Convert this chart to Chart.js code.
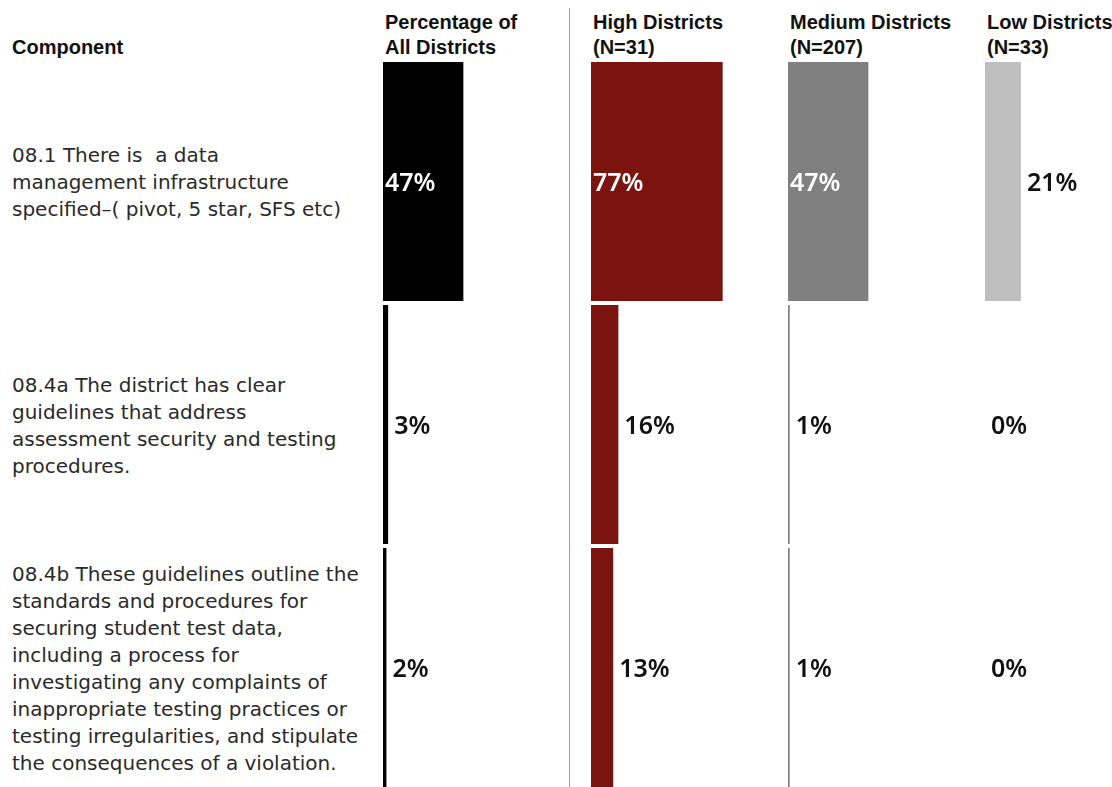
<!DOCTYPE html>
<html>
<head>
<meta charset="utf-8">
<script src="https://cdn.jsdelivr.net/npm/chart.js@4/dist/chart.umd.min.js"></script>
<style>
  html, body { margin: 0; padding: 0; background: #fff; }
  #wrap { position: relative; width: 1112px; height: 787px; overflow: hidden; }
  .head { position: absolute; top: 10px; font: bold 20px "Liberation Sans", Arial, sans-serif; line-height: 25px; color: #111; white-space: pre; }
  .comp { position: absolute; left: 12px; width: 360px; display: flex; align-items: center;
          font: 20px "DejaVu Sans", sans-serif; line-height: 27px; color: #2a2a2a; white-space: pre; }
  .col { position: absolute; top: 60px; }
  #divider { position: absolute; left: 569px; top: 8px; width: 1px; height: 779px; background: #a0a0a0; }
</style>
</head>
<body>
<div id="wrap"></div>
<script>
// component descriptions (one per row, with their line breaks)
const components = [
  "08.1 There is  a data\nmanagement infrastructure\nspecified\u2013( pivot, 5 star, SFS etc)",
  "08.4a The district has clear\nguidelines that address\nassessment security and testing\nprocedures.",
  "08.4b These guidelines outline the\nstandards and procedures for\nsecuring student test data,\nincluding a process for\ninvestigating any complaints of\ninappropriate testing practices or\ntesting irregularities, and stipulate\nthe consequences of a violation."
];
const groupTitles = ["Percentage of\nAll Districts", "High Districts\n(N=31)", "Medium Districts\n(N=207)", "Low Districts\n(N=33)"];
const allDistricts = [47, 3, 2];
const highDistricts = [77, 16, 13];
const mediumDistricts = [47, 1, 1];
const lowDistricts = [21, 0, 0];

const series = [allDistricts, highDistricts, mediumDistricts, lowDistricts];
const colors = ["#000000", "#7b130f", "#808080", "#bfbfbf"];
const colLeft = [383, 591, 788, 985];
const rowTop = 60, rowH = 243;

const wrap = document.getElementById("wrap");

// header row
const compHead = document.createElement("div");
compHead.className = "head";
compHead.style.left = "12px";
compHead.textContent = "\nComponent";
wrap.appendChild(compHead);

groupTitles.forEach((t, i) => {
  const d = document.createElement("div");
  d.className = "head";
  d.style.left = (colLeft[i] + 2) + "px";
  d.textContent = t;
  wrap.appendChild(d);
});

// component text, centred in each row
components.forEach((t, i) => {
  const d = document.createElement("div");
  d.className = "comp";
  d.style.top = (rowTop + i * rowH + 1) + "px";
  d.style.height = rowH + "px";
  d.textContent = t;
  wrap.appendChild(d);
});

const divider = document.createElement("div");
divider.id = "divider";
wrap.appendChild(divider);

// value labels: white inside long bars, black just past short ones
const valueLabels = {
  id: "valueLabels",
  afterDatasetsDraw(chart) {
    const ctx = chart.ctx;
    const meta = chart.getDatasetMeta(0);
    const data = chart.data.datasets[0].data;
    ctx.save();
    ctx.font = "600 25px 'Noto Sans', sans-serif";
    ctx.textBaseline = "middle";
    meta.data.forEach((bar, i) => {
      const v = data[i];
      if (v >= 40) {
        ctx.fillStyle = "#ffffff";
        ctx.fillText(v + "%", bar.base + 2, bar.y + 2);
      } else {
        ctx.fillStyle = "#111111";
        ctx.fillText(v + "%", bar.x + 6, bar.y + 2);
      }
    });
    ctx.restore();
  }
};

series.forEach((values, i) => {
  const canvas = document.createElement("canvas");
  canvas.className = "col";
  canvas.width = 200;
  canvas.height = rowH * 3;
  canvas.style.left = colLeft[i] + "px";
  wrap.appendChild(canvas);

  new Chart(canvas.getContext("2d"), {
    type: "bar",
    data: {
      labels: components.map((c, k) => "row" + k),
      datasets: [{
        data: values,
        backgroundColor: colors[i],
        borderWidth: 0,
        barPercentage: 0.984,
        categoryPercentage: 1
      }]
    },
    options: {
      indexAxis: "y",
      responsive: false,
      animation: false,
      layout: { padding: { left: 0, right: 29, top: 0, bottom: 0 } },
      plugins: { legend: { display: false }, tooltip: { enabled: false } },
      scales: {
        x: { display: false, min: 0, max: 100 },
        y: { display: false }
      }
    },
    plugins: [valueLabels]
  });
});
</script>
</body>
</html>
